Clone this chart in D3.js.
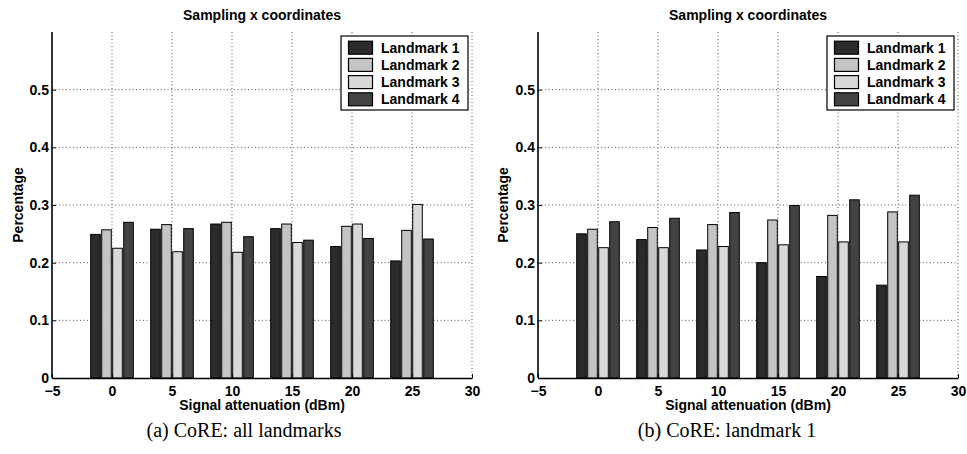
<!DOCTYPE html>
<html>
<head>
<meta charset="utf-8">
<script src="https://cdn.jsdelivr.net/npm/d3@7"></script>
<style>
  body { margin: 0; background: #fff; }
</style>
</head>
<body>
<svg width="967" height="454"></svg>
<script>
// x positions of the groups (signal attenuation, dBm)
const attenuation = [0, 5, 10, 15, 20, 25];
const landmarks = ["Landmark 1", "Landmark 2", "Landmark 3", "Landmark 4"];
const fills = ["#2b2b2b", "#c4c4c4", "#d8d8d8", "#434343"];

// (a) CoRE: all landmarks
const allL1 = [0.249, 0.258, 0.267, 0.259, 0.228, 0.203];
const allL2 = [0.257, 0.266, 0.270, 0.267, 0.263, 0.256];
const allL3 = [0.225, 0.219, 0.218, 0.235, 0.267, 0.301];
const allL4 = [0.270, 0.259, 0.245, 0.239, 0.242, 0.241];

// (b) CoRE: landmark 1
const oneL1 = [0.250, 0.240, 0.222, 0.200, 0.176, 0.161];
const oneL2 = [0.258, 0.261, 0.266, 0.274, 0.282, 0.288];
const oneL3 = [0.226, 0.226, 0.228, 0.231, 0.236, 0.236];
const oneL4 = [0.271, 0.277, 0.287, 0.299, 0.309, 0.317];

const xTicks = [-5, 0, 5, 10, 15, 20, 25, 30];
const yTicks = [0, 0.1, 0.2, 0.3, 0.4, 0.5];

const sans = "Liberation Sans, Arial, sans-serif";
const serif = "Liberation Serif, Times New Roman, serif";

const svg = d3.select("svg");

function drawPanel(left, right, series, caption, captionX, yLabelX) {
  const top = 32, bottom = 378;
  const g = svg.append("g").attr("font-family", sans);

  const x = d3.scaleLinear().domain([-5, 30]).range([left, right]);
  const y = d3.scaleLinear().domain([0, 0.6]).range([bottom, top]);

  // dotted grid
  g.append("g").selectAll("line")
    .data(xTicks.slice(1))
    .join("line")
    .attr("x1", d => x(d)).attr("x2", d => x(d))
    .attr("y1", top).attr("y2", bottom)
    .attr("stroke", "#555")
    .attr("stroke-dasharray", "1,2.5");

  g.append("g").selectAll("line")
    .data(yTicks.slice(1))
    .join("line")
    .attr("x1", left).attr("x2", right)
    .attr("y1", d => y(d)).attr("y2", d => y(d))
    .attr("stroke", "#555")
    .attr("stroke-dasharray", "1,2.5");

  // bars
  const step = 0.917, barW = 0.8;
  series.forEach((vals, i) => {
    const off = (i - 1.5) * step;
    g.append("g").selectAll("rect")
      .data(vals.map((v, j) => ({ a: attenuation[j], v })))
      .join("rect")
      .attr("x", d => x(d.a + off - barW / 2))
      .attr("width", x(barW) - x(0))
      .attr("y", d => y(d.v))
      .attr("height", d => y(0) - y(d.v))
      .attr("fill", fills[i])
      .attr("stroke", "#000")
      .attr("stroke-width", 1);
  });

  // axes
  const xAxis = g.append("g")
    .attr("transform", `translate(0,${bottom})`)
    .call(d3.axisBottom(x).tickValues(xTicks).tickSizeInner(-4).tickSizeOuter(0)
      .tickPadding(8).tickFormat(d => d < 0 ? "\u2212" + Math.abs(d) : d));
  const yAxis = g.append("g")
    .attr("transform", `translate(${left},0)`)
    .call(d3.axisLeft(y).tickValues(yTicks).tickSizeInner(-4).tickSizeOuter(0)
      .tickPadding(3).tickFormat(d => d === 0 ? "0" : d3.format(".1f")(d)));
  yAxis.select(".domain").attr("d", `M0,${bottom}V${top}`);

  [xAxis, yAxis].forEach(a => {
    a.attr("font-family", sans).attr("font-size", 14).attr("font-weight", "bold");
    a.select(".domain").attr("stroke", "#000").attr("stroke-width", 1.6);
    a.selectAll(".tick line").attr("stroke", "#000");
    a.selectAll("text").attr("fill", "#000");
  });

  // title and labels
  const cx = (left + right) / 2;
  g.append("text")
    .attr("x", cx).attr("y", 20)
    .attr("text-anchor", "middle")
    .attr("font-size", 14).attr("font-weight", "bold")
    .text("Sampling x coordinates");

  g.append("text")
    .attr("x", cx).attr("y", 410)
    .attr("text-anchor", "middle")
    .attr("font-size", 14).attr("font-weight", "bold")
    .text("Signal attenuation (dBm)");

  g.append("text")
    .attr("transform", `translate(${yLabelX},${(top + bottom) / 2}) rotate(-90)`)
    .attr("text-anchor", "middle")
    .attr("dy", "0.35em")
    .attr("font-size", 14).attr("font-weight", "bold")
    .text("Percentage");

  g.append("text")
    .attr("x", captionX).attr("y", 437)
    .attr("text-anchor", "middle")
    .attr("font-family", serif)
    .attr("font-size", 20)
    .text(caption);

  // legend
  const lx = right - 131, ly = 36, lw = 127, lh = 74;
  const legend = g.append("g").attr("transform", `translate(${lx},${ly})`);
  legend.append("rect")
    .attr("width", lw).attr("height", lh)
    .attr("fill", "#fff").attr("stroke", "#000").attr("stroke-width", 1.2);
  landmarks.forEach((name, i) => {
    const ry = 11.7 + i * 17.2;
    legend.append("rect")
      .attr("x", 7.5).attr("y", ry - 6.5)
      .attr("width", 24).attr("height", 13)
      .attr("fill", fills[i]).attr("stroke", "#000").attr("stroke-width", 1.2);
    legend.append("text")
      .attr("x", 40).attr("y", ry)
      .attr("dy", "0.36em")
      .attr("font-size", 14).attr("font-weight", "bold")
      .text(name);
  });
}

drawPanel(52, 472, [allL1, allL2, allL3, allL4], "(a) CoRE: all landmarks", 244, 18);
drawPanel(538, 958, [oneL1, oneL2, oneL3, oneL4], "(b) CoRE: landmark 1", 727, 503);
</script>
</body>
</html>
